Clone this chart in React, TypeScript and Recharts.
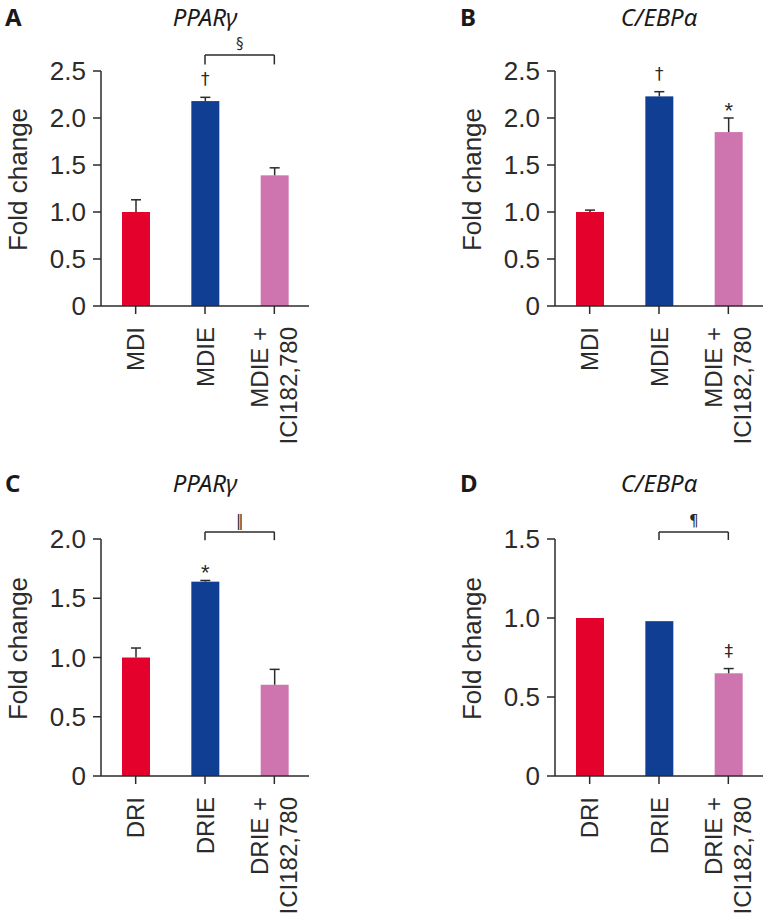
import React from 'react';
import { BarChart, Bar, XAxis, YAxis, ReferenceLine, Cell } from 'recharts';

const RED = '#E4022D';
const BLUE = '#0F3E92';
const PINK = '#CE74AE';
const BAR_COLORS = [RED, BLUE, PINK];
const INK = '#2b2b2b';
const FONT = '"Liberation Sans", Arial, sans-serif';
const TITLE_FONT = '"Noto Sans", "Open Sans", sans-serif';
const SYMBOL_FONT = '"DejaVu Sans", sans-serif';

// A: PPARγ, MDI induction
const mdiGroups = ['MDI', 'MDIE', 'MDIE +\nICI182,780'];
const pparMdiMean = [1.0, 2.18, 1.39];
const pparMdiErr = [0.13, 0.04, 0.08];
const pparMdiMark = ['', '†', ''];
const pparMdiBracket = [2.67, 2.57];

// B: C/EBPα, MDI induction
const cebpMdiMean = [1.0, 2.23, 1.85];
const cebpMdiErr = [0.02, 0.05, 0.15];
const cebpMdiMark = ['', '†', '*'];

// C: PPARγ, DRI induction
const driGroups = ['DRI', 'DRIE', 'DRIE +\nICI182,780'];
const pparDriMean = [1.0, 1.64, 0.77];
const pparDriErr = [0.08, 0.01, 0.13];
const pparDriMark = ['', '*', ''];
const pparDriBracket = [2.06, 1.99];

// D: C/EBPα, DRI induction
const cebpDriMean = [1.0, 0.98, 0.65];
const cebpDriErr = [0, 0, 0.03];
const cebpDriMark = ['', '', '‡'];
const cebpDriBracket = [1.544, 1.494];

const ticksA = [0, 0.5, 1, 1.5, 2, 2.5];
const ticksC = [0, 0.5, 1, 1.5, 2];
const ticksD = [0, 0.5, 1, 1.5];

const buildRows = (groups: string[], mean: number[], err: number[], mark: string[]) =>
  groups.map((g, i) => ({ group: g, mean: mean[i], err: err[i], mark: mark[i] }));

const fmtTick = (v: number) => (v === 0 ? '0' : v.toFixed(1));

const BarWithError = (props: any) => {
  const { x, y, width, height, payload, fill } = props;
  const perUnit = height / payload.mean;
  const errTop = y - payload.err * perUnit;
  const cx = x + width / 2;
  const isStar = payload.mark === '*';
  return (
    <g>
      <rect x={x} y={y} width={width} height={height} fill={fill} />
      {payload.err > 0 && (
        <g stroke={INK} strokeWidth={1.5}>
          <line x1={cx} x2={cx} y1={y} y2={errTop} />
          <line x1={cx - 5} x2={cx + 5} y1={errTop} y2={errTop} />
        </g>
      )}
      {payload.mark && (
        <text
          x={cx}
          y={isStar ? errTop - 0.5 : errTop - 12}
          textAnchor="middle"
          fontSize={isStar ? 22 : 17}
          fontFamily={isStar ? FONT : SYMBOL_FONT}
          fill={INK}
        >
          {payload.mark}
        </text>
      )}
    </g>
  );
};

const XTick = (props: any) => {
  const { x, y, payload } = props;
  const lines = String(payload.value).split('\n');
  const lh = 29;
  return (
    <g>
      {lines.map((t, i) => {
        const bx = x + 8.5 + (i - (lines.length - 1) / 2) * lh;
        const by = y + 11;
        return (
          <text
            key={i}
            x={bx}
            y={by}
            transform={`rotate(-90 ${bx} ${by})`}
            textAnchor="end"
            fontSize={24}
            fontFamily={FONT}
            fill={INK}
          >
            {t}
          </text>
        );
      })}
    </g>
  );
};

const YLabel = (props: any) => {
  const { viewBox, gap } = props;
  const cx = viewBox.x + viewBox.width - gap;
  const cy = viewBox.y + viewBox.height / 2 - 9;
  return (
    <text
      x={cx}
      y={cy}
      transform={`rotate(-90 ${cx} ${cy})`}
      textAnchor="middle"
      dominantBaseline="central"
      fontSize={26}
      fontFamily={FONT}
      fill={INK}
    >
      Fold change
    </text>
  );
};

type PanelProps = {
  letter: string;
  title: string;
  rows: any[];
  left: number;
  top: number;
  height: number;
  yWidth: number;
  marginTop: number;
  marginRight: number;
  xHeight: number;
  ticks: number[];
  bracket?: number[];
  bracketMark?: string;
  letterLeft: number;
  titleTop: number;
};

function Panel(p: PanelProps) {
  const width = 383;
  const plotLeft = p.yWidth;
  const plotWidth = width - p.yWidth - p.marginRight;
  const g = p.rows.map((r) => r.group);
  return (
    <div style={{ position: 'absolute', left: p.left, top: p.top, width, height: p.height }}>
      <div
        style={{
          position: 'absolute',
          left: p.letterLeft,
          top: p.titleTop,
          fontFamily: TITLE_FONT,
          fontWeight: 700,
          fontSize: 24,
          lineHeight: 'normal',
          color: '#1a1a1a',
        }}
      >
        {p.letter}
      </div>
      <div
        style={{
          position: 'absolute',
          left: plotLeft,
          width: plotWidth,
          top: p.titleTop,
          textAlign: 'center',
          fontFamily: TITLE_FONT,
          fontStyle: 'italic',
          fontSize: 24,
          lineHeight: 'normal',
          color: '#1a1a1a',
        }}
      >
        {p.title}
      </div>
      <BarChart
        width={width}
        height={p.height}
        data={p.rows}
        margin={{ top: p.marginTop, right: p.marginRight, bottom: 4, left: 0 }}
        barCategoryGap={0}
        style={{ position: 'absolute', left: 0, top: 0 }}
      >
        <XAxis
          dataKey="group"
          height={p.xHeight}
          interval={0}
          tickSize={8}
          tick={<XTick />}
          axisLine={{ stroke: INK, strokeWidth: 1.5 }}
          tickLine={{ stroke: INK, strokeWidth: 1.5 }}
        />
        <YAxis
          width={p.yWidth}
          domain={[p.ticks[0], p.ticks[p.ticks.length - 1]]}
          ticks={p.ticks}
          tickFormatter={fmtTick}
          tickSize={8}
          tickMargin={7}
          tick={{ fontSize: 26, fontFamily: FONT, fill: INK }}
          axisLine={{ stroke: INK, strokeWidth: 1.5 }}
          tickLine={{ stroke: INK, strokeWidth: 1.5 }}
          label={<YLabel gap={83} />}
        />
        <Bar dataKey="mean" barSize={28} isAnimationActive={false} shape={<BarWithError />}>
          {p.rows.map((r, i) => (
            <Cell key={r.group} fill={BAR_COLORS[i]} />
          ))}
        </Bar>
        {p.bracket && (
          <ReferenceLine
            segment={[
              { x: g[1], y: p.bracket[0] },
              { x: g[2], y: p.bracket[0] },
            ]}
            ifOverflow="visible"
            stroke={INK}
            strokeWidth={1.5}
            label={{
              value: p.bracketMark,
              position: 'top',
              offset: 6,
              fontSize: 15,
              fontFamily: SYMBOL_FONT,
              fill: INK,
            }}
          />
        )}
        {p.bracket && (
          <ReferenceLine
            segment={[
              { x: g[1], y: p.bracket[0] },
              { x: g[1], y: p.bracket[1] },
            ]}
            ifOverflow="visible"
            stroke={INK}
            strokeWidth={1.5}
          />
        )}
        {p.bracket && (
          <ReferenceLine
            segment={[
              { x: g[2], y: p.bracket[0] },
              { x: g[2], y: p.bracket[1] },
            ]}
            ifOverflow="visible"
            stroke={INK}
            strokeWidth={1.5}
          />
        )}
      </BarChart>
    </div>
  );
}

export default function App() {
  return (
    <div style={{ position: 'absolute', left: 0, top: 0, width: 766, height: 914, background: '#fff' }}>
      <Panel
        letter="A"
        title="PPARγ"
        rows={buildRows(mdiGroups, pparMdiMean, pparMdiErr, pparMdiMark)}
        left={0}
        top={0}
        height={460}
        yWidth={101}
        marginTop={71}
        marginRight={74}
        xHeight={150}
        ticks={ticksA}
        bracket={pparMdiBracket}
        bracketMark="§"
        letterLeft={5}
        titleTop={0}
      />
      <Panel
        letter="B"
        title="C/EBPα"
        rows={buildRows(mdiGroups, cebpMdiMean, cebpMdiErr, cebpMdiMark)}
        left={383}
        top={0}
        height={460}
        yWidth={172}
        marginTop={71}
        marginRight={3}
        xHeight={150}
        ticks={ticksA}
        letterLeft={77}
        titleTop={0}
      />
      <Panel
        letter="C"
        title="PPARγ"
        rows={buildRows(driGroups, pparDriMean, pparDriErr, pparDriMark)}
        left={0}
        top={440}
        height={474}
        yWidth={101}
        marginTop={99}
        marginRight={74}
        xHeight={134}
        ticks={ticksC}
        bracket={pparDriBracket}
        bracketMark="‖"
        letterLeft={5}
        titleTop={26}
      />
      <Panel
        letter="D"
        title="C/EBPα"
        rows={buildRows(driGroups, cebpDriMean, cebpDriErr, cebpDriMark)}
        left={383}
        top={440}
        height={474}
        yWidth={172}
        marginTop={99}
        marginRight={3}
        xHeight={134}
        ticks={ticksD}
        bracket={cebpDriBracket}
        bracketMark="¶"
        letterLeft={77}
        titleTop={26}
      />
    </div>
  );
}
